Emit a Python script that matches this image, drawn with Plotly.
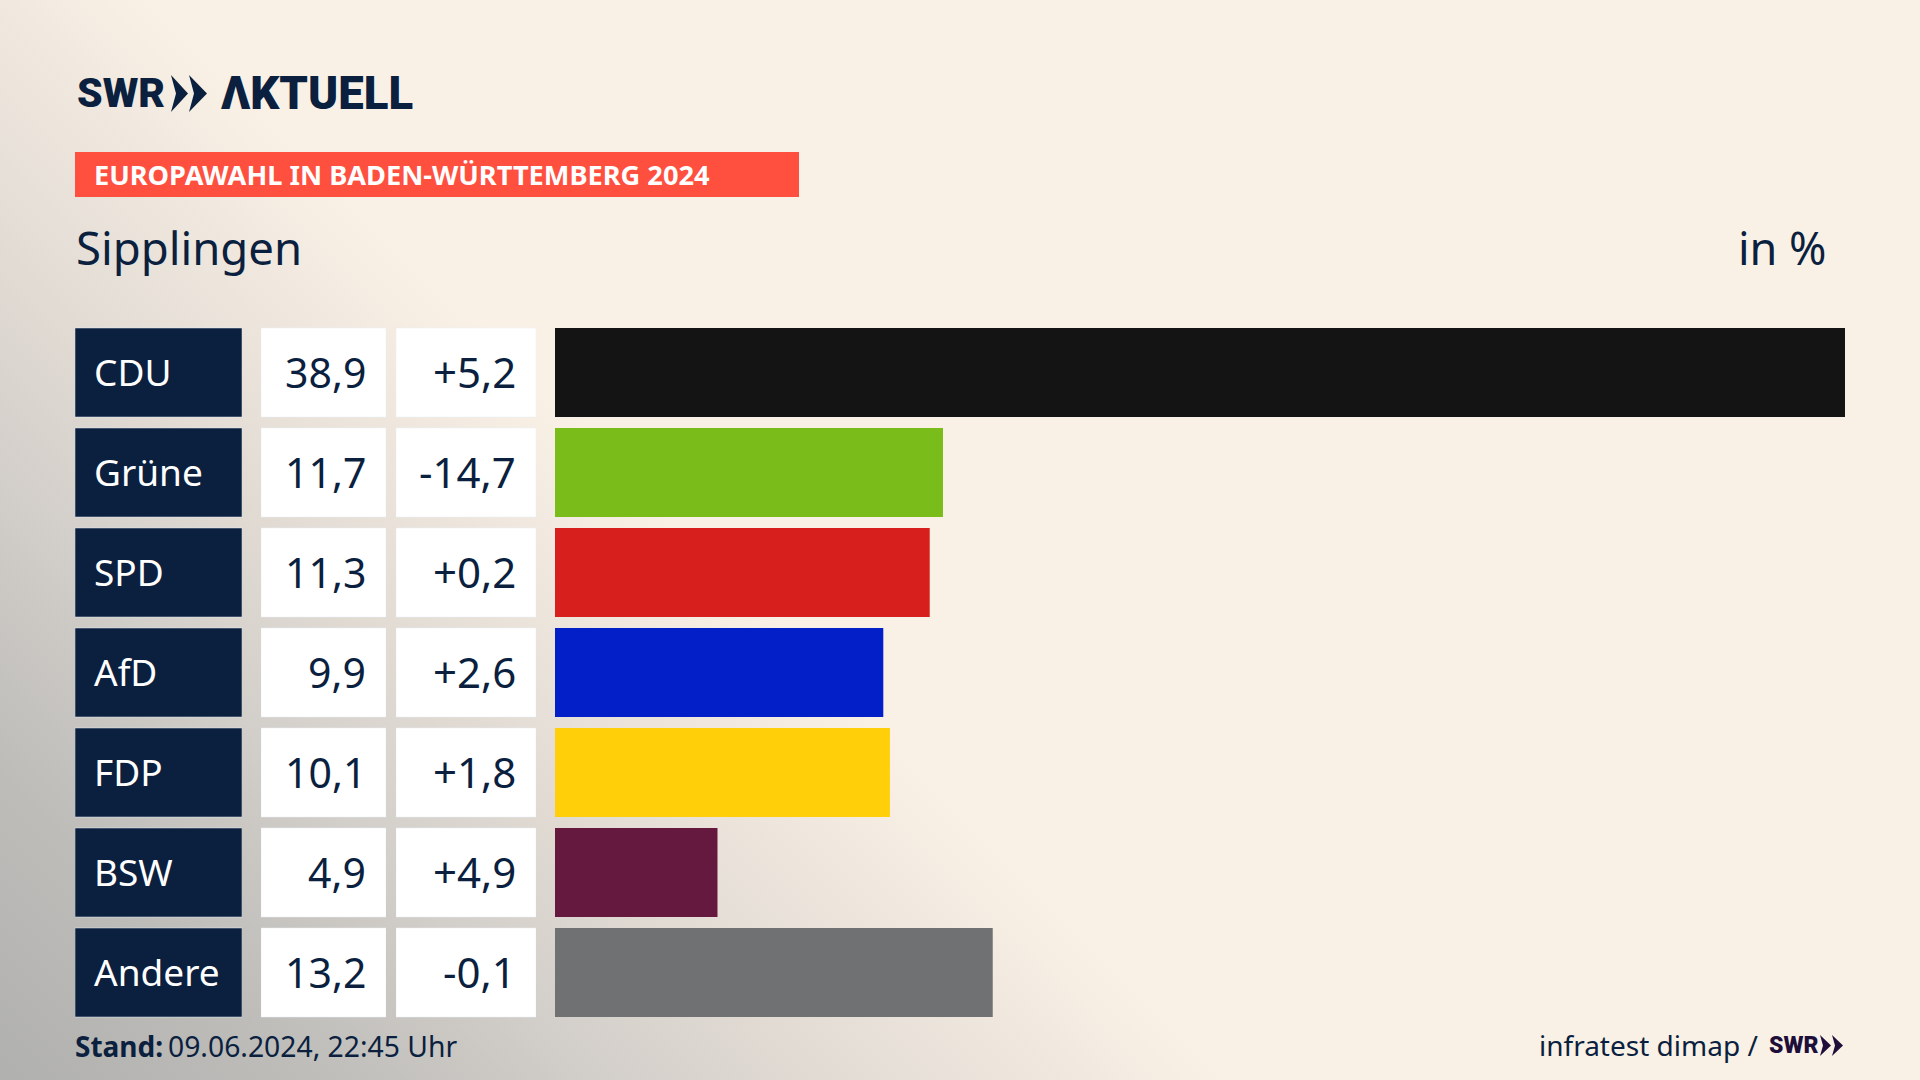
import plotly.graph_objects as go

# Values
parties = ["CDU", "Grüne", "SPD", "AfD", "FDP", "BSW", "Andere"]
shares = [38.9, 11.7, 11.3, 9.9, 10.1, 4.9, 13.2]
changes = [5.2, -14.7, 0.2, 2.6, 1.8, 4.9, -0.1]
bar_colors = ["#141414", "#7abd1a", "#d7201e", "#0320c8", "#ffcf0a", "#66193e", "#6f7173"]

W, H = 1920, 1080
NAVY = "#0b1f3f"
FONT = "Noto Sans"
LOGO_FONT = "Roboto"


def px(x):
    return x / W


def py(y):
    return 1 - y / H


def comma(v, fmt):
    return format(v, fmt).replace(".", ",")


def label(x, y, text, size, xanchor="left", color=NAVY, font=FONT, yref="paper", weight=400, yshift=0):
    return dict(x=px(x), y=py(y) if yref == "paper" else y, xref="paper", yref=yref,
                text=text, showarrow=False, xanchor=xanchor, yanchor="middle", yshift=yshift,
                font=dict(family=font, size=size, color=color, weight=weight))


def chevron(x0, y0, w, h, notch):
    # one arrow head of the SWR logo, as a path in paper coordinates
    pts = [(x0, y0), (x0 + w, y0 + h / 2), (x0, y0 + h), (x0 + notch, y0 + h / 2)]
    return "M" + " L".join(f"{px(a):.5f},{py(b):.5f}" for a, b in pts) + " Z"


fig = go.Figure()

# table cells, one bar per row on their own hidden x axes
fig.add_trace(go.Bar(x=[1] * 7, y=parties, orientation="h", xaxis="x2", marker_color=NAVY, width=0.89, hoverinfo="skip"))
fig.add_trace(go.Bar(x=[1] * 7, y=parties, orientation="h", xaxis="x3", marker_color="white", width=0.89, hoverinfo="skip"))
fig.add_trace(go.Bar(x=[1] * 7, y=parties, orientation="h", xaxis="x4", marker_color="white", width=0.89, hoverinfo="skip"))

# the result bars
fig.add_trace(go.Bar(x=shares, y=parties, orientation="h", marker_color=bar_colors, marker_line_width=0, width=0.89))

annotations = []
for p, s, c in zip(parties, shares, changes):
    annotations.append(label(92, p, p, 37, color="white", yref="y", yshift=1))
    annotations.append(label(368, p, comma(s, ".1f"), 41, xanchor="right", yref="y", yshift=1))
    annotations.append(label(518, p, comma(c, "+.1f"), 42, xanchor="right", yref="y", yshift=1))

annotations += [
    label(75, 93, "SWR", 41, font=LOGO_FONT, weight=900),
    label(219, 93, "ΛKTUELL", 45.5, font=LOGO_FONT, weight=900),
    label(92, 175, "EUROPAWAHL IN BADEN-WÜRTTEMBERG 2024", 27.2, color="white", weight=700),
    label(74, 247, "Sipplingen", 45.5),
    label(1829, 247, "in %", 45, xanchor="right"),
    label(73, 1046, "Stand:", 28, weight=700),
    label(166, 1046, "09.06.2024, 22:45 Uhr", 28.3),
    label(1760, 1045, "infratest dimap /", 28, xanchor="right"),
    label(1767, 1045, "SWR", 23, font=LOGO_FONT, color="#1d0f3a", weight=900),
]

shapes = [
    dict(type="rect", xref="paper", yref="paper", x0=px(75), x1=px(799), y0=py(197), y1=py(152),
         fillcolor="#ff4f3f", line_width=0, layer="below"),
    dict(type="path", xref="paper", yref="paper", path=chevron(171, 75, 17, 37, 5), fillcolor=NAVY, line_width=0),
    dict(type="path", xref="paper", yref="paper", path=chevron(189, 75, 18, 37, 5), fillcolor=NAVY, line_width=0),
    dict(type="path", xref="paper", yref="paper", path=chevron(1820, 1035, 11, 21, 3), fillcolor="#1d0f3a", line_width=0),
    dict(type="path", xref="paper", yref="paper", path=chevron(1832, 1035, 11, 21, 3), fillcolor="#1d0f3a", line_width=0),
]

hidden = dict(visible=False, showgrid=False, zeroline=False, fixedrange=True)

fig.update_layout(
    width=W, height=H,
    margin=dict(l=0, r=0, t=0, b=0),
    autosize=False,
    showlegend=False,
    paper_bgcolor="rgba(0,0,0,0)",
    plot_bgcolor="rgba(0,0,0,0)",
    barmode="overlay",
    annotations=annotations,
    shapes=shapes,
    xaxis=dict(domain=[px(555), px(1845)], range=[0, 38.9], **hidden),
    xaxis2=dict(domain=[px(75), px(242)], range=[0, 1], anchor="y", **hidden),
    xaxis3=dict(domain=[px(261), px(386)], range=[0, 1], anchor="y", **hidden),
    xaxis4=dict(domain=[px(396), px(536)], range=[0, 1], anchor="y", **hidden),
    yaxis=dict(domain=[py(1022.5), py(322.5)], range=[6.5, -0.5], type="category",
               categoryorder="array", categoryarray=parties, **hidden),
)

# page background: cream with the grey glow from the lower left corner
page_css = """
document.documentElement.style.margin = '0';
document.body.style.margin = '0';
document.body.style.overflow = 'hidden';
document.body.style.height = '1080px';
document.body.style.background =
  'linear-gradient(45deg, #b0b0ae 0px, #bdbcb9 212px, #d2cec9 424px, #e6dfd7 636px, #faf1e6 877px)';
"""
fig.write_html("out.html", post_script=page_css, config=dict(displayModeBar=False))
